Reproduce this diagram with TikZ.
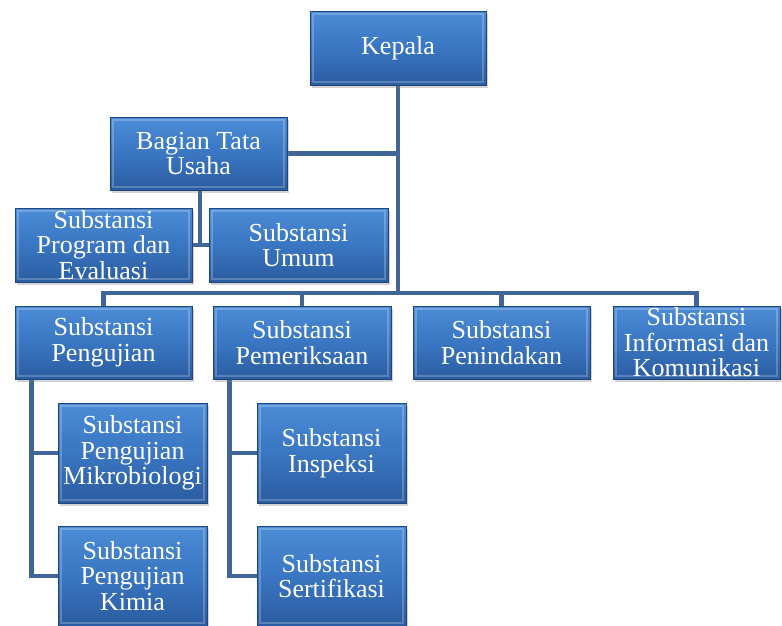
\documentclass[tikz,border=0pt]{standalone}
\usepackage{fontspec}
\setmainfont{Liberation Serif}
\usetikzlibrary{shadows,backgrounds}
\definecolor{boxtop}{RGB}{76,140,214}
\definecolor{boxmid}{RGB}{58,118,194}
\definecolor{boxbot}{RGB}{42,92,160}
\definecolor{boxedge}{RGB}{30,70,125}
\definecolor{linecol}{RGB}{64,102,152}
\tikzset{
  orgbox/.style={rectangle, draw=boxedge, line width=0.8pt,
    top color=boxtop, bottom color=boxbot, middle color=boxmid,
    text=white, align=center, inner sep=0pt,
    font=\fontsize{26}{25.5}\selectfont,
    drop shadow={shadow xshift=2pt, shadow yshift=-3pt, opacity=0.35},
    path picture={\draw[white, opacity=0.22, line width=2pt]
      ([shift={(3pt,-3pt)}]path picture bounding box.north west) rectangle
      ([shift={(-3pt,3pt)}]path picture bounding box.south east);}},
  conn/.style={draw=linecol, line width=4.5pt}
}
\begin{document}
\begin{tikzpicture}[x=1pt,y=-1pt]
\useasboundingbox (0,0) rectangle (782,625);
\node[orgbox, minimum width=176pt, minimum height=74pt] (kepala) at (398,48) {Kepala};
\node[orgbox, minimum width=177pt, minimum height=73pt] (btu) at (198.5,153.5) {Bagian Tata\\Usaha};
\node[orgbox, minimum width=177pt, minimum height=74pt] (prog) at (103.5,245) {Substansi\\Program dan\\Evaluasi};
\node[orgbox, minimum width=179pt, minimum height=74pt] (umum) at (298.5,245) {Substansi\\Umum};
\node[orgbox, minimum width=177pt, minimum height=73pt] (uji) at (103.5,342.5) {Substansi\\Pengujian};
\node[orgbox, minimum width=178pt, minimum height=73pt] (periksa) at (302,342.5) {Substansi\\Pemeriksaan};
\node[orgbox, minimum width=177pt, minimum height=73pt] (tindak) at (501.5,342.5) {Substansi\\Penindakan};
\node[orgbox, minimum width=167pt, minimum height=73pt] (info) at (696.5,342.5) {Substansi\\Informasi dan\\Komunikasi};
\node[orgbox, minimum width=149pt, minimum height=100pt] (mikro) at (132.5,453) {Substansi\\Pengujian\\Mikrobiologi};
\node[orgbox, minimum width=149pt, minimum height=100pt] (kimia) at (132.5,576) {Substansi\\Pengujian\\Kimia};
\node[orgbox, minimum width=149pt, minimum height=100pt] (inspeksi) at (331.5,453) {Substansi\\Inspeksi};
\node[orgbox, minimum width=149pt, minimum height=100pt] (sertif) at (331.5,576) {Substansi\\Sertifikasi};
\coordinate (bus) at (398,293);
\begin{pgfonlayer}{background}
\draw[conn] (kepala.south) -- (bus);
\draw[conn] (uji.north) |- (bus);
\draw[conn] (bus) -| (info.north);
\draw[conn] (periksa.north) -- (periksa.north |- bus);
\draw[conn] (tindak.north) -- (tindak.north |- bus);
\draw[conn] (btu.east) -- (btu.east -| kepala.south);
\draw[conn] ([xshift=1.5pt]btu.south) -- ([xshift=1.5pt]btu.south |- prog.east);
\draw[conn] (prog.east) -- (umum.west);
\draw[conn] ([xshift=17pt]uji.south west) |- (mikro.west);
\draw[conn] ([xshift=17pt]uji.south west) |- (kimia.west);
\draw[conn] ([xshift=17pt]periksa.south west) |- (inspeksi.west);
\draw[conn] ([xshift=17pt]periksa.south west) |- (sertif.west);
\end{pgfonlayer}
\end{tikzpicture}
\end{document}
